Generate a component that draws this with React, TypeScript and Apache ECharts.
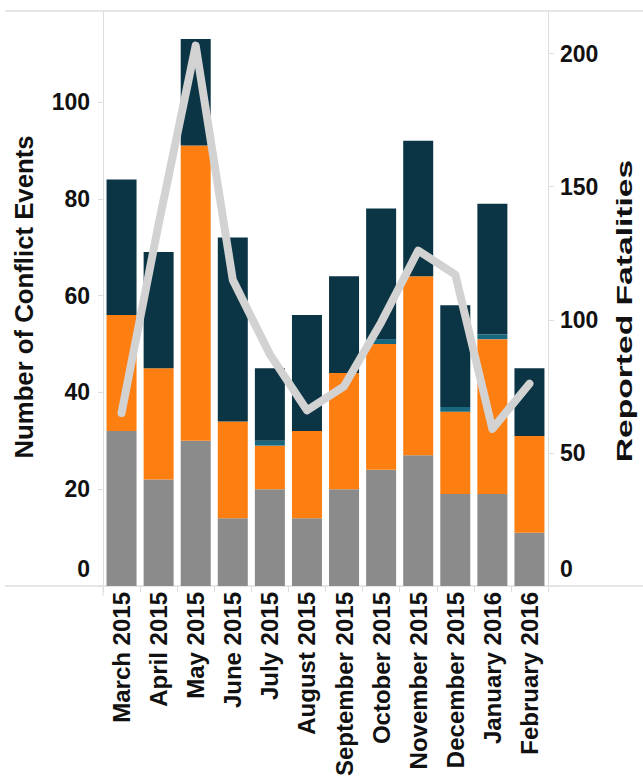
import React, { useEffect, useRef } from "react";
import * as echarts from "echarts";

const categories = [
  "March 2015", "April 2015", "May 2015", "June 2015", "July 2015", "August 2015",
  "September 2015", "October 2015", "November 2015", "December 2015", "January 2016", "February 2016",
];
const grayEvents = [32, 22, 30, 14, 20, 14, 20, 24, 27, 19, 19, 11];
const orangeEvents = [24, 23, 61, 20, 9, 18, 24, 26, 37, 17, 32, 20];
const tealEvents = [0, 0, 0, 0, 1, 0, 0, 1, 0, 1, 1, 0];
const navyEvents = [28, 24, 22, 38, 15, 24, 20, 27, 28, 21, 27, 14];
const fatalities = [65, 136, 203, 115, 87, 66, 75, 99, 126, 117, 59, 76];

const leftTicks = [0, 20, 40, 60, 80, 100];
const rightTicks = [0, 50, 100, 150, 200];

const FONT = '"Liberation Sans", Arial, Helvetica, sans-serif';
const LINE = "#dedede";

export default function App() {
  const ref = useRef<HTMLDivElement>(null);
  useEffect(() => {
    if (!ref.current) return;
    const chart = echarts.init(ref.current, undefined, { renderer: "svg" });
    const labelStyle = { fontFamily: FONT, fontWeight: "bold" as const, fontSize: 23, color: "#111" };
    const zeroRich = { z: { ...labelStyle, padding: [0, 0, 34, 0] } };
    const fmt = (ticks: number[]) => (v: number) =>
      ticks.includes(v) ? (v === 0 ? "{z|0}" : String(v)) : "";
    const bar = (name: string, data: number[], color: string) => ({
      name,
      type: "bar",
      stack: "events",
      yAxisIndex: 0,
      barWidth: 30,
      data,
      itemStyle: { color },
    });
    chart.setOption({
      animation: false,
      grid: { left: 103, right: 95, top: 11, bottom: 194, containLabel: false, outerBoundsMode: "none" },
      xAxis: {
        type: "category",
        data: categories,
        axisLine: { show: false },
        axisTick: { show: true, length: 6, lineStyle: { color: LINE } },
        axisLabel: { rotate: 90, margin: 6, interval: 0, fontFamily: FONT, fontWeight: "bold", fontSize: 24, color: "#111" },
      },
      yAxis: [
        {
          type: "value",
          min: 0,
          max: 118.8,
          interval: 20,
          splitLine: { show: false },
          axisLine: { show: true, lineStyle: { color: LINE } },
          axisTick: { show: true, length: 5, lineStyle: { color: LINE } },
          axisLabel: { ...labelStyle, margin: 13, showMaxLabel: false, formatter: fmt(leftTicks), rich: zeroRich },
        },
        {
          type: "value",
          min: 0,
          max: 216,
          interval: 50,
          position: "right",
          splitLine: { show: false },
          axisLine: { show: true, lineStyle: { color: LINE } },
          axisTick: { show: true, length: 6, lineStyle: { color: LINE } },
          axisLabel: { ...labelStyle, margin: 12, showMaxLabel: false, formatter: fmt(rightTicks), rich: zeroRich },
        },
      ],
      graphic: [
        { type: "line", shape: { x1: 5, y1: 11, x2: 643, y2: 11 }, style: { stroke: LINE, lineWidth: 1.5 }, silent: true },
        { type: "line", shape: { x1: 5, y1: 586, x2: 643, y2: 586 }, style: { stroke: LINE, lineWidth: 1.5 }, silent: true },
        { type: "line", shape: { x1: 103, y1: 586, x2: 103, y2: 596 }, style: { stroke: LINE, lineWidth: 1 }, silent: true },
        {
          type: "text",
          x: 24,
          y: 297,
          rotation: Math.PI / 2,
          scaleX: 1.03,
          style: {
            text: "Number of Conflict Events",
            font: `bold 25px ${FONT}`,
            fill: "#111",
            align: "center",
            verticalAlign: "middle",
            textAlign: "center",
            textVerticalAlign: "middle",
          },
        },
        {
          type: "text",
          x: 624,
          y: 311,
          rotation: Math.PI / 2,
          scaleX: 1.4,
          scaleY: 0.95,
          style: {
            text: "Reported Fatalities",
            font: `bold 24px ${FONT}`,
            fill: "#111",
            align: "center",
            verticalAlign: "middle",
            textAlign: "center",
            textVerticalAlign: "middle",
          },
        },
      ],
      series: [
        bar("Gray", grayEvents, "#8b8b8b"),
        bar("Orange", orangeEvents, "#fd7f12"),
        bar("Teal", tealEvents, "#17677e"),
        bar("Navy", navyEvents, "#0b3544"),
        {
          name: "Reported Fatalities",
          type: "line",
          yAxisIndex: 1,
          data: fatalities,
          symbol: "none",
          lineStyle: { color: "#d2d2d2", width: 8, cap: "round", join: "round" },
          z: 5,
        },
      ],
    });
    return () => chart.dispose();
  }, []);
  return <div ref={ref} style={{ width: 643, height: 780, position: "absolute", left: 0, top: 0 }} />;
}
